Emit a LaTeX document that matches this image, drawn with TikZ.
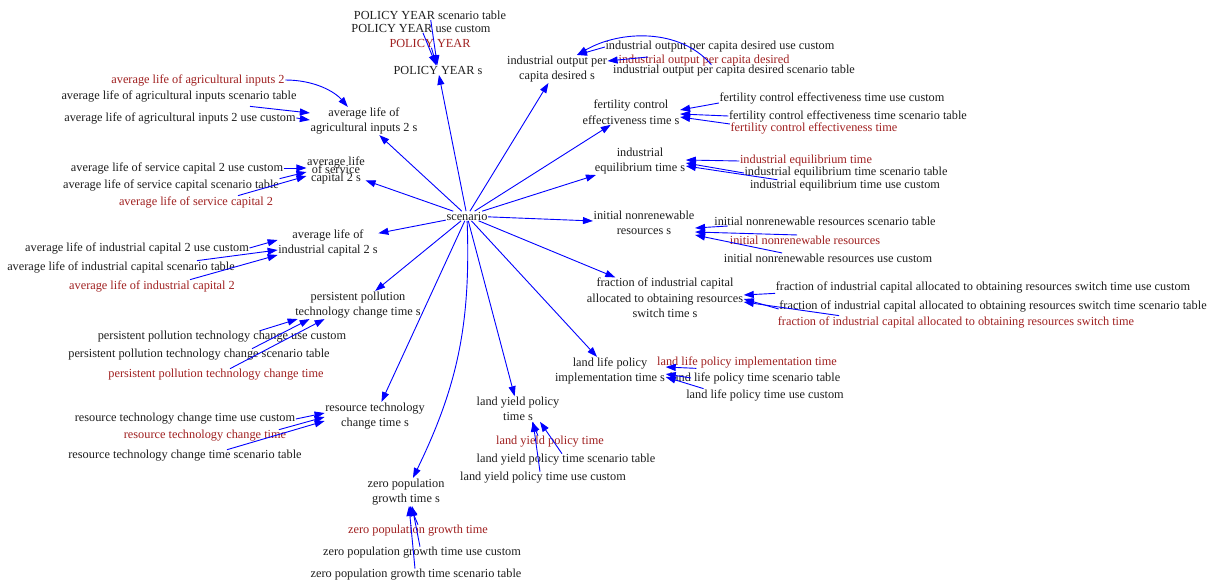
\documentclass[tikz,border=0pt]{standalone}
\usepackage{fontspec}
\setmainfont{Liberation Serif}
\usetikzlibrary{arrows.meta}
\definecolor{txt}{RGB}{30,30,30}
\definecolor{keyred}{RGB}{160,32,32}
\definecolor{edgeblue}{RGB}{0,0,255}
\begin{document}
\begin{tikzpicture}[x=1pt,y=-1pt,
  every node/.style={font=\fontsize{12.3}{15.5}\selectfont, inner sep=0.5pt},
  lbl/.style={align=center, text=txt},
  src/.style={text=txt},
  key/.style={text=keyred},
  arr/.style={draw=edgeblue, line width=0.9pt, -{Triangle[length=10pt,width=7pt]}}]
\fill[white] (0,0) rectangle (1211,584);
\path[use as bounding box] (0,0) rectangle (1211,584);

% hub
\node[lbl] (scen) at (467,216) {scenario};

% scenario outputs
\node[lbl] (pys)  at (438,70)  {POLICY YEAR s};
\node[lbl] (iod)  at (557,69)  {industrial output per\\capita desired s};
\node[lbl] (fce)  at (631,112) {fertility control\\effectiveness time s};
\node[lbl] (ie)   at (640,161) {industrial\\equilibrium time s};
\node[lbl] (inr)  at (644,223) {initial nonrenewable\\resources s};
\node[lbl] (fic)  at (665,298) {fraction of industrial capital\\allocated to obtaining resources\\switch time s};
\node[lbl] (llp)  at (610,371) {land life policy\\implementation time s};
\node[lbl] (lyp)  at (518,409) {land yield policy\\time s};
\node[lbl] (zpg)  at (406,492) {zero population\\growth time s};
\node[lbl] (rtc)  at (375,416) {resource technology\\change time s};
\node[lbl] (ppt)  at (358,305) {persistent pollution\\technology change time s};
\node[lbl] (alic) at (328,243) {average life of\\industrial capital 2 s};
\node[lbl] (alsc) at (336,170) {average life\\[-7.5pt]of service\\[-7.5pt]capital 2 s};
\node[lbl] (alai) at (364,121) {average life of\\agricultural inputs 2 s};

% inputs
\node[src] (pyst) at (430,15) {POLICY YEAR scenario table};
\node[src] (pyuc) at (421,28) {POLICY YEAR use custom};
\node[key] (pyr)  at (430,43) {POLICY YEAR};

\node[src] (ioduc) at (720,47) {industrial output per capita desired use custom};
\node[key] (iodr)  at (704,61) {industrial output per capita desired};
\node[src] (iodst) at (734,71) {industrial output per capita desired scenario table};

\node[src] (fceuc) at (832,98)  {fertility control effectiveness time use custom};
\node[src] (fcest) at (848,116) {fertility control effectiveness time scenario table};
\node[key] (fcer)  at (814,128) {fertility control effectiveness time};

\node[key] (ier)  at (806,161) {industrial equilibrium time};
\node[src] (iest) at (846,173) {industrial equilibrium time scenario table};
\node[src] (ieuc) at (845,186) {industrial equilibrium time use custom};

\node[src] (inrst) at (825,221) {initial nonrenewable resources scenario table};
\node[key] (inrr)  at (805,240) {initial nonrenewable resources};
\node[src] (inruc) at (828,258) {initial nonrenewable resources use custom};

\node[src] (ficuc) at (983,287) {fraction of industrial capital allocated to obtaining resources switch time use custom};
\node[src] (ficst) at (993,306) {fraction of industrial capital allocated to obtaining resources switch time scenario table};
\node[key] (ficr)  at (956,322) {fraction of industrial capital allocated to obtaining resources switch time};

\node[key] (llr)  at (747,362) {land life policy implementation time};
\node[src] (llst) at (755,378) {land life policy time scenario table};
\node[src] (lluc) at (765,395) {land life policy time use custom};

\node[key] (lyr)  at (550,442) {land yield policy time};
\node[src] (lyst) at (566,460) {land yield policy time scenario table};
\node[src] (lyuc) at (543,478) {land yield policy time use custom};

\node[key] (zpr)  at (418,531) {zero population growth time};
\node[src] (zpuc) at (422,553) {zero population growth time use custom};
\node[src] (zpst) at (416,575) {zero population growth time scenario table};

\node[src] (rtcuc) at (185,419) {resource technology change time use custom};
\node[key] (rtcr)  at (205,436) {resource technology change time};
\node[src] (rtcst) at (185,456) {resource technology change time scenario table};

\node[src] (ppuc) at (222,337) {persistent pollution technology change use custom};
\node[src] (ppst) at (199,355) {persistent pollution technology change scenario table};
\node[key] (ppr)  at (216,375) {persistent pollution technology change time};

\node[src] (alicuc) at (137,248) {average life of industrial capital 2 use custom};
\node[src] (alicst) at (121,267) {average life of industrial capital scenario table};
\node[key] (alicr)  at (152,286) {average life of industrial capital 2};

\node[src] (alscuc) at (177,168) {average life of service capital 2 use custom};
\node[src] (alscst) at (171,185) {average life of service capital scenario table};
\node[key] (alscr)  at (196,202) {average life of service capital 2};

\node[key] (alair)  at (198,80)  {average life of agricultural inputs 2};
\node[src] (alaist) at (179,96)  {average life of agricultural inputs scenario table};
\node[src] (alaiuc) at (180,118) {average life of agricultural inputs 2 use custom};

% hub fan-out
\foreach \t in {pys,iod,fce,ie,inr,fic,llp,lyp,rtc,ppt,alic,alsc,alai}
  \draw[arr] (scen) -- (\t);
\draw[arr] (scen) to[bend left=14] (zpg);

% POLICY YEAR
\draw[arr] (pyst) -- (pys);
\draw[arr] (pyuc) -- (pys);
\draw[arr] (pyr) -- (pys);

% industrial output per capita desired
\draw[arr] (ioduc.west) -- (iod.35);
\draw[arr] ([xshift=30pt,yshift=4pt]iodr.west) -- ([yshift=8pt]iod.east);
\draw[arr] ([xshift=99pt]iodst.north west) .. controls (680,28) and (620,30) .. (iod.35);

% fertility control effectiveness time
\draw[arr] ([yshift=-5pt]fceuc.west) -- ([yshift=2pt]fce.east);
\draw[arr] (fcest.west) -- ([yshift=-2pt]fce.east);
\draw[arr] ([yshift=4pt]fcer.west) -- ([yshift=-5pt]fce.east);

% industrial equilibrium time
\draw[arr] (ier.west) -- ([yshift=1pt]ie.east);
\draw[arr] (iest.west) -- ([yshift=-2pt]ie.east);
\draw[arr] ([xshift=28pt]ieuc.north west) -- ([yshift=-5pt]ie.east);

% initial nonrenewable resources
\draw[arr] ([xshift=14pt]inrst.south west) -- ([yshift=-5pt]inr.east);
\draw[arr] ([xshift=68pt]inrr.north west) -- ([yshift=-9pt]inr.east);
\draw[arr] ([xshift=59pt]inruc.north west) -- ([yshift=-12pt]inr.east);

% fraction of industrial capital ... switch time
\draw[arr] (ficuc.south west) -- ([yshift=3pt]fic.east);
\draw[arr] ([yshift=-3pt]ficst.west) -- ([yshift=-1pt]fic.east);
\draw[arr] ([xshift=62pt]ficr.north west) -- ([yshift=-4pt]fic.east);

% land life policy implementation time
\draw[arr] ([xshift=40pt]llr.south west) -- ([yshift=4pt]llp.east);
\draw[arr] ([xshift=22pt]llst.west) -- ([yshift=-3pt]llp.east);
\draw[arr] ([xshift=18pt]lluc.north west) -- ([yshift=-6pt]llp.east);

% land yield policy time
\draw[arr] ([xshift=-12pt]lyr.north) -- ([xshift=14pt]lyp.south);
\draw[arr] ([xshift=-4pt]lyst.north) -- ([xshift=22pt]lyp.south);
\draw[arr] ([xshift=-3pt]lyuc.north) -- ([xshift=15pt]lyp.south);

% zero population growth time
\draw[arr] (zpr.north) -- ([xshift=4pt]zpg.south);
\draw[arr] ([xshift=-2pt]zpuc.north) -- ([xshift=6pt]zpg.south);
\draw[arr] ([xshift=-1pt]zpst.north) -- ([xshift=3pt]zpg.south);

% resource technology change time
\draw[arr] (rtcuc.east) -- ([yshift=3pt]rtc.west);
\draw[arr] ([xshift=-8pt]rtcr.north east) -- ([yshift=-1pt]rtc.west);
\draw[arr] ([xshift=42pt]rtcst.north) -- ([yshift=-5pt]rtc.west);

% persistent pollution technology change time
\draw[arr] ([xshift=38pt]ppuc.north) -- ([xshift=3pt]ppt.south west);
\draw[arr] ([xshift=53pt]ppst.north) -- ([xshift=15pt]ppt.south west);
\draw[arr] ([xshift=14pt]ppr.north) -- ([xshift=30pt]ppt.south west);

% average life of industrial capital
\draw[arr] (alicuc.east) -- ([yshift=3pt]alic.west);
\draw[arr] ([xshift=76pt]alicst.north) -- ([yshift=-7pt]alic.west);
\draw[arr] ([xshift=38pt]alicr.north) -- ([yshift=-12pt]alic.west);

% average life of service capital
\draw[arr] (alscuc.east) -- ([yshift=2pt]alsc.west);
\draw[arr] (alscst.north east) -- ([yshift=-2pt]alsc.west);
\draw[arr] ([xshift=42pt]alscr.north) -- ([yshift=-6pt]alsc.west);

% average life of agricultural inputs
\draw[arr] (alair.east) .. controls (315,80) and (335,92) .. ([xshift=38pt]alai.north west);
\draw[arr] ([xshift=71pt,yshift=-4pt]alaist.south) -- ([yshift=8pt]alai.west);
\draw[arr] (alaiuc.east) -- ([yshift=1pt]alai.west);
\end{tikzpicture}
\end{document}
